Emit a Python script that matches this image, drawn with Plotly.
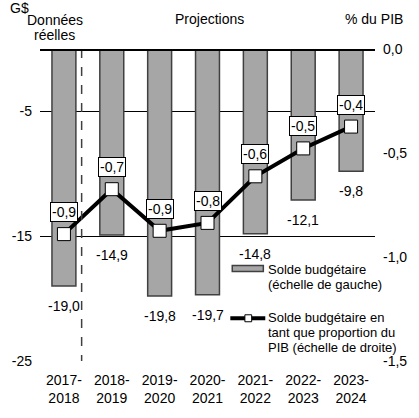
import plotly.graph_objects as go

categories = ["2017-<br>2018", "2018-<br>2019", "2019-<br>2020", "2020-<br>2021",
              "2021-<br>2022", "2022-<br>2023", "2023-<br>2024"]
balance = [-19.0, -14.9, -19.8, -19.7, -14.8, -12.1, -9.8]
balance_labels = ["-19,0", "-14,9", "-19,8", "-19,7", "-14,8", "-12,1", "-9,8"]
pct_gdp = [-0.89, -0.674, -0.874, -0.836, -0.612, -0.478, -0.373]
pct_labels = ["-0,9", "-0,7", "-0,9", "-0,8", "-0,6", "-0,5", "-0,4"]

left_ticks = [-5, -15, -25]
left_ticktext = ["-5", "-15", "-25"]
right_ticks = [0, -0.5, -1.0, -1.5]
right_ticktext = ["0,0", "-0,5", "-1,0", "-1,5"]

legend_bar_lines = ["Solde budgétaire", "(échelle de gauche)"]
legend_line_lines = ["Solde budgétaire en", "tant que proportion du", "PIB (échelle de droite)"]

FONT = "Liberation Sans, Arial, sans-serif"
FS = 14
LFS = 13
BAR_FILL = "#a6a6a6"
BAR_EDGE = "#404040"

# plot area in pixels (for converting legend/header positions to paper coords)
L, R, T, B, W, H = 35, 39, 49, 55, 419, 418
PW, PH = W - L - R, H - T - B
def px(xp):
    return (xp - L) / PW
def py(yp):
    return 1 - (yp - T) / PH

x = list(range(len(categories)))

fig = go.Figure()
fig.add_trace(go.Bar(
    x=x, y=balance, name="Solde budgétaire",
    marker=dict(color=BAR_FILL, line=dict(color=BAR_EDGE, width=1.5)),
    width=0.5, yaxis="y", showlegend=False, hoverinfo="skip",
))
fig.add_trace(go.Scatter(
    x=x, y=pct_gdp, yaxis="y2", mode="lines+markers",
    name="Solde budgétaire en tant que proportion du PIB", showlegend=False,
    line=dict(color="black", width=4), hoverinfo="skip",
    marker=dict(symbol="square", size=13, color="white", line=dict(color="black", width=1)),
))

def txt(**kw):
    d = dict(showarrow=False, font=dict(size=FS, color="black", family=FONT))
    d.update(kw)
    return d

annotations = []
for xi, v, t in zip(x, balance, balance_labels):
    annotations.append(txt(x=xi, y=v, xref="x", yref="y", text=t, yshift=-20))
for xi, v, t in zip(x, pct_gdp, pct_labels):
    annotations.append(txt(x=xi, y=v, xref="x", yref="y2", text=t, yshift=22,
                           bgcolor="white", bordercolor="black", borderwidth=1, borderpad=1))

# headers
annotations += [
    txt(x=px(50), y=py(20), xref="paper", yref="paper", text="Données", xanchor="center", yanchor="middle"),
    txt(x=px(50), y=py(35), xref="paper", yref="paper", text="réelles", xanchor="center", yanchor="middle"),
    txt(x=px(210), y=py(19), xref="paper", yref="paper", text="Projections", xanchor="center", yanchor="middle"),
    txt(x=px(2), y=py(8), xref="paper", yref="paper", text="G$", xanchor="left", yanchor="middle"),
    txt(x=px(379), y=py(19), xref="paper", yref="paper", text="% du PIB", xanchor="center", yanchor="middle"),
]

# custom legend
for i, s in enumerate(legend_bar_lines):
    annotations.append(txt(x=px(268), y=py(271 + 15.5 * i), xref="paper", yref="paper",
                           text=s, xanchor="left", yanchor="middle",
                           font=dict(size=LFS, color="black", family=FONT)))
for i, s in enumerate(legend_line_lines):
    annotations.append(txt(x=px(268), y=py(319 + 15 * i), xref="paper", yref="paper",
                           text=s, xanchor="left", yanchor="middle",
                           font=dict(size=LFS, color="black", family=FONT)))

shapes = [
    dict(type="line", xref="x", yref="y", x0=0.37, x1=0.37, y0=0, y1=-25,
         line=dict(color="#404040", width=1.5, dash="dash"), layer="above"),
    dict(type="line", xref="paper", yref="y", x0=0, x1=1, y0=0, y1=0,
         line=dict(color="black", width=4), layer="above"),
    # legend swatches
    dict(type="rect", xref="paper", yref="paper", x0=px(233), x1=px(265), y0=py(267), y1=py(273),
         fillcolor=BAR_FILL, line=dict(color=BAR_EDGE, width=1.5)),
    dict(type="line", xref="paper", yref="paper", x0=px(231), x1=px(267), y0=py(320), y1=py(320),
         line=dict(color="black", width=4)),
    dict(type="rect", xref="paper", yref="paper", x0=px(246), x1=px(253), y0=py(316.5), y1=py(323.5),
         fillcolor="white", line=dict(color="black", width=1)),
]

fig.update_layout(
    width=W, height=H,
    margin=dict(l=L, r=R, t=T, b=B),
    paper_bgcolor="white", plot_bgcolor="white",
    font=dict(family=FONT, size=FS, color="black"),
    showlegend=False, hovermode=False,
    xaxis=dict(tickmode="array", tickvals=x, ticktext=categories, range=[-0.5, 6.5],
               showgrid=False, showline=False, ticks="", zeroline=False,
               ticklabelstandoff=9),
    yaxis=dict(range=[-25, 0], tickvals=left_ticks, ticktext=left_ticktext,
               showgrid=True, gridcolor="black", gridwidth=1, zeroline=False,
               ticks="", showline=False, ticklabelstandoff=7),
    yaxis2=dict(range=[-1.5, 0], tickvals=right_ticks, ticktext=right_ticktext,
                overlaying="y", side="right", showgrid=False, zeroline=False,
                ticks="", showline=False, ticklabelstandoff=7),
    annotations=annotations, shapes=shapes,
)

fig.write_html("out.html", config={"displayModeBar": False, "staticPlot": True},
               post_script="document.body.style.margin='0';document.body.style.overflow='hidden';")
